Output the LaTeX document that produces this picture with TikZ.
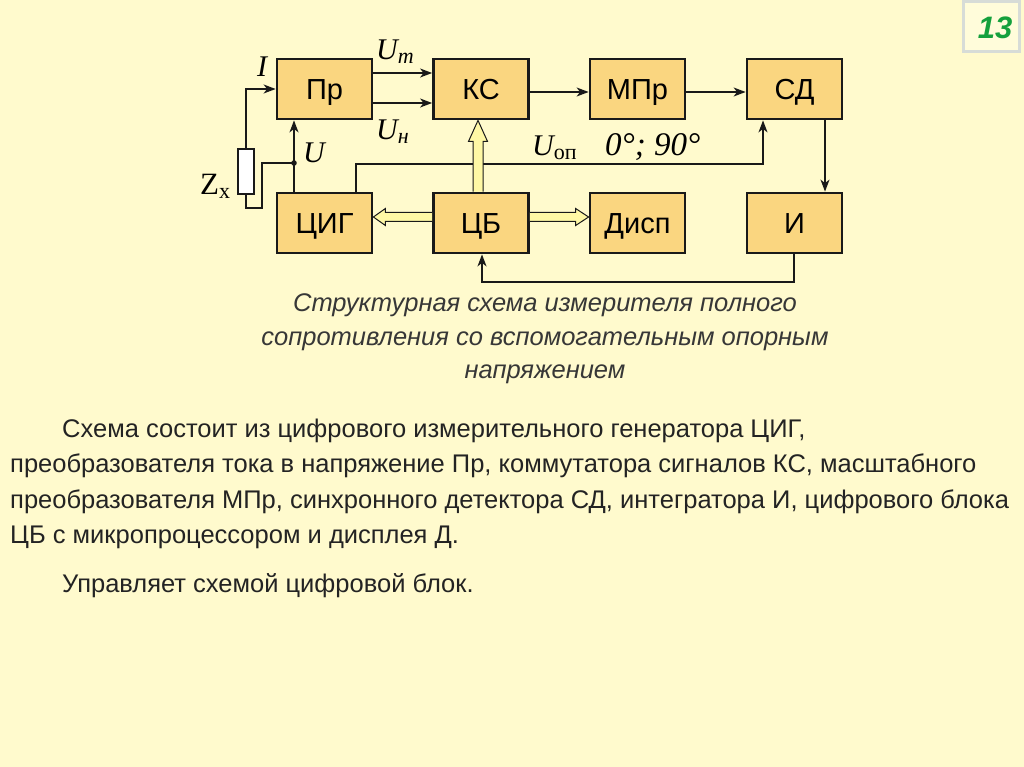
\documentclass[tikz,border=0pt]{standalone}
\usepackage{fontspec}
\setmainfont{Liberation Sans}
\newfontfamily\tms{Liberation Serif}
\usetikzlibrary{arrows.meta,calc}
\definecolor{bg}{RGB}{255,250,205}
\definecolor{boxfill}{RGB}{250,214,128}
\definecolor{hollowfill}{RGB}{255,248,165}
\definecolor{wire}{RGB}{25,25,25}
\definecolor{txt}{RGB}{35,35,35}
\definecolor{capt}{RGB}{55,55,55}
\definecolor{numgreen}{RGB}{20,160,60}
\definecolor{numframe}{RGB}{215,220,215}
\definecolor{numfill}{RGB}{255,252,218}
\tikzset{
  blk/.style={draw=wire, line width=2.8pt, fill=boxfill, minimum width=95pt, minimum height=60pt, inner sep=0pt, text height=21pt, text depth=0pt, font=\fontsize{29}{29}\selectfont},
  arr/.style={draw=wire, line width=1.4pt, -{Stealth[length=12pt,width=9pt,inset=3.5pt]}},
  wr/.style={draw=wire, line width=1.4pt},
  hollow/.style={draw=wire, line width=1pt, fill=hollowfill},
  mlab/.style={font=\tms\itshape\fontsize{30}{30}\selectfont, inner sep=0pt, text=black},
  capline/.style={font=\itshape\fontsize{25.5}{25.5}\selectfont, text=capt, inner sep=0pt, anchor=base},
  bodyline/.style={font=\fontsize{25.5}{25.5}\selectfont, text=txt, inner sep=0pt, anchor=base west},
}
\begin{document}
\begin{tikzpicture}[x=1pt,y=-1pt]
\fill[bg] (0,0) rectangle (1024,767);
\useasboundingbox (0,0) rectangle (1024,767);
% page number
\node[draw=numframe, line width=3pt, fill=numfill, minimum width=56pt, minimum height=50pt] (num) at (991,27) {};
\node[font=\bfseries\itshape\fontsize{31}{31}\selectfont, text=numgreen, inner sep=0pt] (numtxt) at (995,28) {13};
% blocks
\node[blk] (pr) at (324.5,89) {Пр};
\node[blk] (ks) at (481,89) {КС};
\node[blk] (mpr) at (637.5,89) {МПр};
\node[blk] (sd) at (794.5,89) {СД};
\node[blk] (cig) at (324.5,223) {ЦИГ};
\node[blk] (cb) at (481,223) {ЦБ};
\node[blk] (disp) at (637.5,223) {Дисп};
\node[blk] (ii) at (794.5,223) {И};
% resistor
\node[draw=wire, line width=1.4pt, fill=white, minimum width=16pt, minimum height=45pt, inner sep=0pt] (res) at (246,171.5) {};
\coordinate (dot) at (294,163);
\fill[wire] (dot) circle (2.8pt);
% connectors
\draw[arr] (res.north) -- (res.north |- 0,89) -- (pr.west |- 0,89);
\draw[wr] (res.south) -- (res.south |- 0,208) -- (262,208) -- (262,163) -- (dot);
\draw[arr] (cig.north -| dot) -- (pr.south -| dot);
\draw[arr] (pr.east |- 0,73) -- (ks.west |- 0,73);
\draw[arr] (pr.east |- 0,103) -- (ks.west |- 0,103);
\draw[arr] (ks.east |- 0,92) -- (mpr.west |- 0,92);
\draw[arr] (mpr.east |- 0,92) -- (sd.west |- 0,92);
\coordinate (ref1) at (356,164);
\coordinate (ref2) at (763,164);
\draw[arr] (cig.north -| ref1) -- (ref1) -- (ref2) -- (sd.south -| ref2);
\coordinate (sdx) at (825,0);
\draw[arr] (sd.south -| sdx) -- (ii.north -| sdx);
\coordinate (fb1) at (794,282);
\coordinate (fb2) at (482,282);
\draw[arr] (ii.south -| fb1) -- (fb1) -- (fb2) -- (cb.south -| fb2);
% hollow arrows
\coordinate (vb) at ($(cb.north)+(-3,0)$);
\coordinate (vt) at ($(ks.south)+(-3,0)$);
\draw[hollow] ($(vb)+(-5,0)$) -- ($(vt)+(-5,21)$) -- ($(vt)+(-9.5,21)$) -- (vt) -- ($(vt)+(9.5,21)$) -- ($(vt)+(5,21)$) -- ($(vb)+(5,0)$);
\coordinate (lb) at ($(cb.west)+(0,-6)$);
\coordinate (lt) at ($(cig.east)+(0,-6)$);
\draw[hollow] ($(lb)+(0,-4.5)$) -- ($(lt)+(12,-4.5)$) -- ($(lt)+(12,-8.5)$) -- (lt) -- ($(lt)+(12,8.5)$) -- ($(lt)+(12,4.5)$) -- ($(lb)+(0,4.5)$);
\coordinate (rb) at ($(cb.east)+(0,-6)$);
\coordinate (rt) at ($(disp.west)+(0,-6)$);
\draw[hollow] ($(rb)+(0,-4.5)$) -- ($(rt)+(-13,-4.5)$) -- ($(rt)+(-13,-8.5)$) -- (rt) -- ($(rt)+(-13,8.5)$) -- ($(rt)+(-13,4.5)$) -- ($(rb)+(0,4.5)$);
% labels
\node[mlab] (lI) at (262,67) {I};
\node[mlab] (lU) at (314,153) {U};
\node[mlab, anchor=base west] (lUm) at (376,60) {U\textsubscript{\fontsize{22}{22}\selectfont m}};
\node[mlab, anchor=base west] (lUn) at (376,140) {U\textsubscript{\fontsize{22}{22}\selectfont н}};
\node[font=\tms\fontsize{31}{31}\selectfont, inner sep=0pt, anchor=base west] (lZ) at (200,195) {Z\textsubscript{\fontsize{22}{22}\selectfont x}};
\node[mlab, anchor=base west] (lUop) at (532,156) {U\textsubscript{\upshape\fontsize{22}{22}\selectfont оп}};
\node[font=\tms\itshape\fontsize{33}{33}\selectfont, inner sep=0pt, anchor=base west] (lphase) at (605,156) {0°; 90°};
% caption
\node[capline] (c1) at (545,311) {Структурная схема измерителя полного};
\node[capline] (c2) at (545,345) {сопротивления со вспомогательным опорным};
\node[capline] (c3) at (545,378) {напряжением};
% body
\node[bodyline] (b1) at (62,437) {Схема состоит из цифрового измерительного генератора ЦИГ,};
\node[bodyline] (b2) at (10,472) {преобразователя тока в напряжение Пр, коммутатора сигналов КС, масштабного};
\node[bodyline] (b3) at (10,508) {преобразователя МПр, синхронного детектора СД, интегратора И, цифрового блока};
\node[bodyline] (b4) at (10,543) {ЦБ с микропроцессором и дисплея Д.};
\node[bodyline] (b5) at (62,592) {Управляет схемой цифровой блок.};
\end{tikzpicture}
\end{document}
